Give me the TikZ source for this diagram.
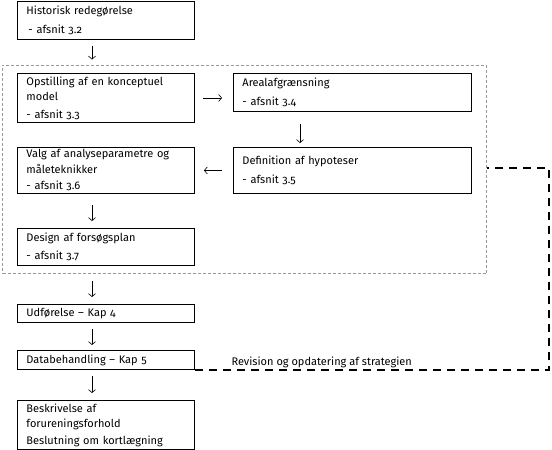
\documentclass[tikz,border=0pt]{standalone}
\usepackage{fontspec}
\setmainfont{Fira Sans}[Numbers=OldStyle]
\usetikzlibrary{arrows.meta,fit}

\tikzset{
  box/.style={draw, line width=0.9pt, anchor=north west, align=left,
    inner xsep=9pt, inner ysep=1pt, font=\fontsize{11}{15.5}\selectfont},
  lbox/.style={box, text width=159pt},
  rbox/.style={box, text width=220pt},
  flow/.style={-{Straight Barb[length=3pt,width=7pt]}, line width=0.6pt},
  grpframe/.style={draw=gray!80, dash pattern=on 3pt off 2pt, line width=0.9pt},
  revline/.style={line width=1.6pt, dash pattern=on 8pt off 6pt},
}

\begin{document}
\begin{tikzpicture}[x=1pt, y=-1pt]
    \useasboundingbox (0,0) rectangle (552,450);

    % Kortlaegningsforloebet - venstre kolonne og hoejre kolonne
    \node[lbox, minimum height=38pt] (hist) at (17,1)
        {Historisk redegørelse\\[3pt]\hspace*{2pt}- afsnit 3.2};
    \node[lbox, minimum height=49pt] (konc) at (17,73)
        {Opstilling af en konceptuel\\model\\[2pt]- afsnit 3.3};
    \node[rbox, minimum height=38pt] (areal) at (233,73)
        {Arealafgrænsning\\[3pt]- afsnit 3.4};
    \node[rbox, minimum height=46pt] (hyp) at (233,147)
        {Definition af hypoteser\\[3pt]- afsnit 3.5};
    \node[lbox, minimum height=46pt] (valg) at (17,147)
        {Valg af analyseparametre og\\måleteknikker\\[1pt]- afsnit 3.6};
    \node[lbox, minimum height=37pt] (design) at (17,228)
        {Design af forsøgsplan\\[2pt]- afsnit 3.7};
    \node[lbox, minimum height=18pt] (udf) at (17,304)
        {Udførelse – Kap 4};
    \node[lbox, minimum height=19pt] (data) at (17,350)
        {Databehandling – Kap 5};
    \node[lbox, minimum height=49pt] (beskr) at (17,400)
        {Beskrivelse af\\forureningsforhold\\[1pt]Beslutning om kortlægning};

    % Stiplet ramme om strategien
    \node[grpframe, fit=(konc)(areal)(design), inner xsep=14.5pt, inner ysep=8pt] (grp) {};

    % Pile
    \coordinate (lx) at (92,0);
    \coordinate (rx) at (300,0);
    \draw[flow, shorten <=6pt, shorten >=5pt] (hist.south -| lx) -- (grp.north -| lx);
    \draw[flow, shorten <=8pt, shorten >=11pt] (konc.east) -- (konc.east -| areal.west);
    \draw[flow, shorten <=12pt, shorten >=4pt] (areal.south -| rx) -- (hyp.north -| rx);
    \draw[flow, shorten <=11pt, shorten >=9pt] (hyp.west) -- (hyp.west -| valg.east);
    \draw[flow, shorten <=11pt, shorten >=7pt] (valg.south -| lx) -- (design.north -| lx);
    \draw[flow, shorten <=7pt, shorten >=7pt] (grp.south -| lx) -- (udf.north -| lx);
    \draw[flow, shorten <=6pt, shorten >=5pt] (udf.south -| lx) -- (data.north -| lx);
    \draw[flow, shorten <=6pt, shorten >=7pt] (data.south -| lx) -- (beskr.north -| lx);

    % Revision og tilbagekobling
    \coordinate (rev) at (549,168);
    \draw[revline] (data.south east) -- (data.south east -| rev) -- (rev) -- (rev -| grp.east);
    \node[font=\fontsize{11}{15}\selectfont, anchor=base west] (revlbl) at (228,365)
        {Revision og opdatering af strategien};
\end{tikzpicture}
\end{document}
